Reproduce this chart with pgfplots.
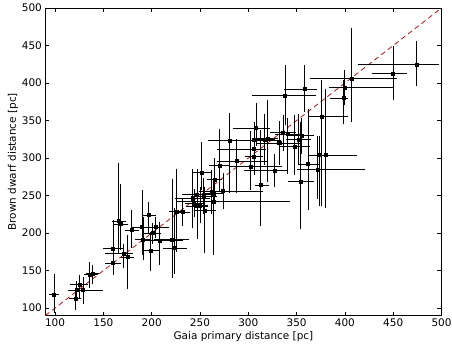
\documentclass[border=0pt]{standalone}
\usepackage{fontspec}
\setmainfont{DejaVu Sans}
\usepackage{pgfplots}
\pgfplotsset{compat=1.18}
\usepackage{pgfplotstable}

\pgfplotstableread{
x y xm xp ym yp
99 118 2 2 20 23
121 113 3 3 11 7
122 124 5 4 8 8
125 131 6 6 14 9
129 124 10 17 14 13
136 145 3 5 14 12
139 146 4 3 10 8
160 179 7 8 25 35
160 160 5 5 12 15
166 216 4 4 40 74
168 212 4 4 30 50
171 173 16 7 16 9
175 168 4 4 38 25
179 204 4 5 20 23
191 191 5 5 23 26
190 208 7 8 33 45
197 224 4 4 20 14
199 177 5 5 24 20
204 208 10 11 10 10
208 190 15 21 28 21
201 200 6 6 10 10
221 191 16 15 47 77
224 180 9 9 30 50
226 229 5 5 50 53
232 228 5 5 15 15
242 246 15 15 35 35
244 240 6 6 15 15
247 251 12 12 30 30
247 236 8 8 40 20
250 237 5 5 20 20
255 230 8 8 53 27
252 281 6 6 20 36
254 249 10 10 20 20
262 255 10 10 25 25
264 242 35 76 67 26
264 253 8 8 15 15
265 271 5 5 25 25
270 290 8 8 30 45
274 256 10 38 20 20
281 323 20 30 65 33
288 296 17 28 38 26
302 289 19 30 28 43
306 302 6 6 20 20
306 312 35 9 15 15
306 324 25 25 20 20
308 340 21 11 20 29
313 264 3 5 50 70
317 325 8 8 30 30
320 326 8 8 54 48
327 283 28 11 18 18
332 320 20 20 25 25
336 334 10 10 20 20
341 332 10 10 49 18
348 315 12 13 33 39
352 325 10 10 30 30
355 330 10 10 20 20
354 269 10 11 60 75
338 383 31 29 35 37
358 392 18 10 26 28
362 292 7 8 57 70
372 285 18 46 35 41
374 304 8 35 64 22
380 304 14 29 67 84
376 355 10 24 115 45
399 380 11 1 30 20
400 394 13 47 19 19
407 406 40 44 54 64
450 413 19 11 31 33
474 425 57 20 25 27
}\bd

\definecolor{dred}{rgb}{0.68,0.08,0.08}

\begin{document}
\begin{tikzpicture}
\begin{axis}[
  scale only axis, width=396bp, height=307.5bp,
  xmin=90, xmax=500, ymin=90, ymax=500,
  xtick={100,150,...,500}, ytick={100,150,...,500},
  tick align=inside, tick pos=both,
  xticklabel pos=lower, yticklabel pos=left,
  major tick length=4bp,
  axis line style={line width=0.9bp},
  every tick/.style={black, line width=0.7bp},
  font=\fontsize{10.5}{12}\selectfont,
  /pgf/number format/assume math mode=true,
  xlabel={Gaia primary distance [pc]},
  ylabel={Brown dwarf distance [pc]},
  xlabel style={yshift=2bp},
  ylabel style={yshift=-3bp},
]
\addplot[dred, line width=0.8bp, dash pattern=on 5bp off 3.5bp] coordinates {(90,90) (500,500)};
\addplot[only marks, mark=square*, mark size=1.5bp, black,
  error bars/.cd, x dir=both, x explicit, y dir=both, y explicit,
  error bar style={line width=0.9bp, black},
  error mark=-,
  error mark options={line width=0.9bp, mark size=3bp, black}]
  table[x=x, y=y, x error plus=xp, x error minus=xm, y error plus=yp, y error minus=ym]{\bd};
\end{axis}
\pgfresetboundingbox
\useasboundingbox ([xshift=-45.4bp,yshift=-31.5bp]current axis.south west) rectangle ([xshift=10.5bp,yshift=8bp]current axis.north east);
\end{tikzpicture}
\end{document}
